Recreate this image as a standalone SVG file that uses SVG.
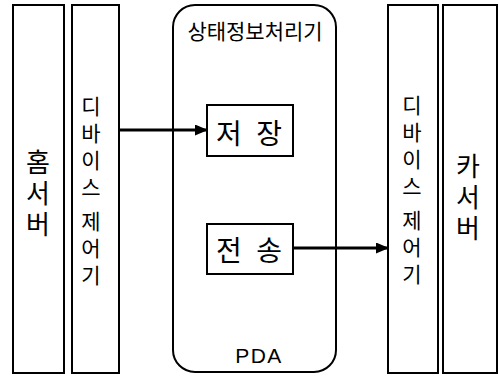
<svg xmlns="http://www.w3.org/2000/svg" width="499" height="378" viewBox="0 0 499 378">
<style>
.box{fill:#fff;stroke:#000;stroke-width:2}
.ko{font-family:"Noto Sans CJK KR","Noto Sans",sans-serif;fill:#000}
.h{text-anchor:middle;dominant-baseline:central}
.vert{writing-mode:vertical-rl;text-orientation:upright}
.v{font-size:21px;letter-spacing:6px}
.big{font-size:26px;letter-spacing:5px}
.mid{font-size:28px}
.title{font-size:21px}
.lat{font-family:"Liberation Sans",Arial,sans-serif;font-size:21px;fill:#000;text-anchor:middle;letter-spacing:1.5px}
.conn{stroke:#000;stroke-width:3;fill:none}
</style>
<defs>
<marker id="ah" markerUnits="userSpaceOnUse" markerWidth="13" markerHeight="11" refX="12" refY="5.5" orient="auto">
<path d="M0,0 L13,5.5 L0,11 z" fill="#000"/>
</marker>
</defs>
<rect width="499" height="378" fill="#fff"/>
<g id="home-server">
<rect class="box" x="13" y="5" width="51" height="368"/>
<text class="ko vert big" x="38" y="149">홈서버</text>
</g>
<g id="device-ctrl-left">
<rect class="box" x="72" y="5" width="47" height="368"/>
<text class="ko vert v" x="91" y="95.5">디바이스<tspan y="210.5">제어기</tspan></text>
</g>
<g id="pda">
<rect class="box" x="173" y="5" width="163" height="367" rx="22" ry="22"/>
<text class="ko h title" x="255" y="30">상태정보처리기</text>
<text class="lat" x="259" y="363">PDA</text>
</g>
<g id="store">
<rect class="box" x="207" y="105" width="86" height="51"/>
<text class="ko h mid" x="249" y="132" xml:space="preserve" word-spacing="8">저 장</text>
</g>
<g id="send">
<rect class="box" x="207" y="224" width="86" height="50"/>
<text class="ko h mid" x="249" y="249" xml:space="preserve" word-spacing="8">전 송</text>
</g>
<g id="device-ctrl-right">
<rect class="box" x="388" y="5" width="50" height="368"/>
<text class="ko vert v" x="412" y="94.5">디바이스<tspan y="210">제어기</tspan></text>
</g>
<g id="car-server">
<rect class="box" x="443" y="5" width="54" height="368"/>
<text class="ko vert big" x="468" y="153">카서버</text>
</g>
<g id="connectors">
<line class="conn" x1="119" y1="130" x2="207" y2="130" marker-end="url(#ah)"/>
<line class="conn" x1="293" y1="248" x2="388" y2="248" marker-end="url(#ah)"/>
</g>
</svg>
